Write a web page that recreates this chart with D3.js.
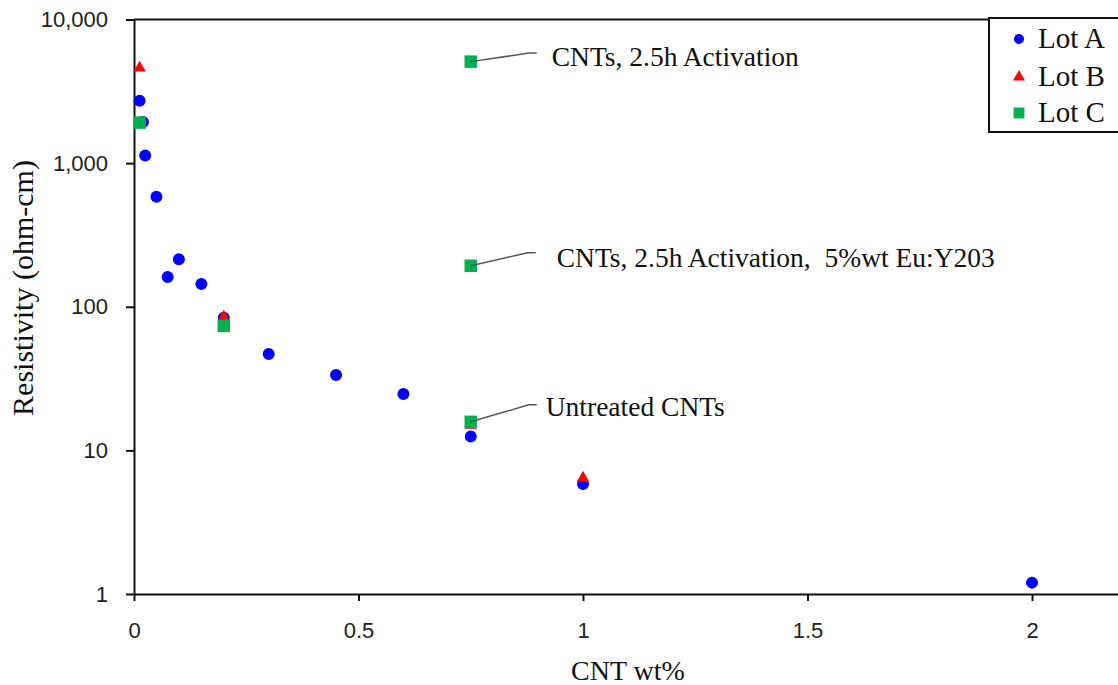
<!DOCTYPE html>
<html>
<head>
<meta charset="utf-8">
<script src="https://cdn.jsdelivr.net/npm/d3@7"></script>
<style>
  html, body { margin: 0; padding: 0; background: #fff; }
  svg { display: block; }
  .tick text { font-family: "Liberation Sans", Arial, sans-serif; font-size: 22px; fill: #222; }
  .serif { font-family: "Liberation Serif", "Times New Roman", serif; fill: #111; }
</style>
</head>
<body>
<svg id="chart" width="1118" height="685"></svg>
<script>
// CNT loading (wt%) and measured resistivity (ohm-cm) for each lot
const lotA_wt  = [0.0125, 0.02, 0.025, 0.05, 0.075, 0.1, 0.15, 0.2, 0.3, 0.45, 0.6, 0.75, 1, 2];
const lotA_res = [2720, 1930, 1130, 584, 161, 214, 144, 84, 46.9, 33.5, 24.7, 12.5, 5.84, 1.2];

const lotB_wt  = [0.0125, 0.2, 0.75, 1];
const lotB_res = [4600, 85, 15.0, 6.42];

const lotC_wt  = [0.0125, 0.2, 0.75, 0.75, 0.75];
const lotC_res = [1915, 73.5, 15.8, 193, 5090];

const seriesNames = ["Lot A", "Lot B", "Lot C"];

// Notes attached to Lot C points (index into the Lot C arrays)
const noteText  = ["CNTs, 2.5h Activation", "CNTs, 2.5h Activation,  5%wt Eu:Y203", "Untreated CNTs"];
const notePoint = [4, 3, 2];

const xTicks = [0, 0.5, 1, 1.5, 2];
const yTicks = [1, 10, 100, 1000, 10000];

// ---- layout ----
const svg = d3.select("#chart");
const x0 = 134, xPerUnit = 449;
const x = d3.scaleLinear().domain([0, 2.2]).range([x0, x0 + 2.2 * xPerUnit]);
const y = d3.scaleLog().domain([1, 10000]).range([594, 19.5]);

const colors = { "Lot A": "#0000ff", "Lot B": "#ff0000", "Lot C": "#00b050" };
const shapes = { "Lot A": d3.symbolCircle, "Lot B": d3.symbolTriangle, "Lot C": d3.symbolSquare };
const sizes  = { "Lot A": 113, "Lot B": 68, "Lot C": 156 };
const legendSizes = { "Lot A": 80, "Lot B": 62, "Lot C": 118 };

// leader line end and label start, relative to the point
const noteLayout = [
  { lx: 66, ly: -8.5, tx: 81, ty: 4 },
  { lx: 65, ly: -13, tx: 86, ty: 1 },
  { lx: 66, ly: -17, tx: 75, ty: -6 }
];

const axisColor = "#111";

// top frame line at the upper bound
svg.append("line")
  .attr("x1", x(0)).attr("x2", 1118)
  .attr("y1", y(10000)).attr("y2", y(10000))
  .attr("stroke", axisColor).attr("stroke-width", 2);

// x axis
const xAxis = svg.append("g")
  .attr("transform", `translate(0,${y(1)})`)
  .call(d3.axisBottom(x).tickValues(xTicks).tickFormat(d3.format("")).tickSize(7).tickSizeOuter(0).tickPadding(21));
xAxis.select(".domain").attr("stroke", axisColor).attr("stroke-width", 2);
xAxis.selectAll(".tick line").attr("stroke", axisColor).attr("stroke-width", 2);

// y axis
const yAxis = svg.append("g")
  .attr("transform", `translate(${x(0)},0)`)
  .call(d3.axisLeft(y).tickValues(yTicks).tickFormat(d3.format(",")).tickSize(8).tickSizeOuter(0).tickPadding(18));
yAxis.select(".domain").attr("stroke", axisColor).attr("stroke-width", 2);
yAxis.selectAll(".tick line").attr("stroke", axisColor).attr("stroke-width", 2);

// axis titles
svg.append("text").attr("class", "serif")
  .attr("x", 628).attr("y", 680)
  .attr("text-anchor", "middle")
  .style("font-size", "28px")
  .text("CNT wt%");

svg.append("text").attr("class", "serif")
  .attr("transform", `translate(33,288) rotate(-90)`)
  .attr("text-anchor", "middle")
  .style("font-size", "30px")
  .text("Resistivity (ohm-cm)");

// data markers
const series = [
  { name: "Lot A", wt: lotA_wt, res: lotA_res },
  { name: "Lot B", wt: lotB_wt, res: lotB_res },
  { name: "Lot C", wt: lotC_wt, res: lotC_res }
];

series.forEach(s => {
  const pts = s.wt.map((w, i) => ({ w, r: s.res[i] }));
  svg.append("g").selectAll("path")
    .data(pts)
    .join("path")
    .attr("d", d3.symbol().type(shapes[s.name]).size(sizes[s.name]))
    .attr("transform", d => `translate(${x(d.w)},${y(d.r)})`)
    .attr("fill", colors[s.name]);
});

// notes with leader lines
noteText.forEach((t, i) => {
  const px = x(lotC_wt[notePoint[i]]);
  const py = y(lotC_res[notePoint[i]]);
  const L = noteLayout[i];
  svg.append("path")
    .attr("d", `M${px},${py} L${px + L.lx - 8},${py + L.ly} L${px + L.lx},${py + L.ly}`)
    .attr("fill", "none").attr("stroke", "#555").attr("stroke-width", 1.5);
  svg.append("text").attr("class", "serif")
    .attr("x", px + L.tx).attr("y", py + L.ty)
    .style("font-size", "27.5px")
    .style("white-space", "pre")
    .text(t);
});

// legend
const lg = svg.append("g");
lg.append("rect")
  .attr("x", 989).attr("y", 18).attr("width", 160).attr("height", 114)
  .attr("fill", "#fff").attr("stroke", "#111").attr("stroke-width", 2);
seriesNames.forEach((n, i) => {
  const cy = [39, 77, 113][i];
  lg.append("path")
    .attr("d", d3.symbol().type(shapes[n]).size(legendSizes[n]))
    .attr("transform", `translate(1019,${cy})`)
    .attr("fill", colors[n]);
  lg.append("text").attr("class", "serif")
    .attr("x", 1038).attr("y", cy + 8.5)
    .style("font-size", "29px")
    .text(n);
});
</script>
</body>
</html>
